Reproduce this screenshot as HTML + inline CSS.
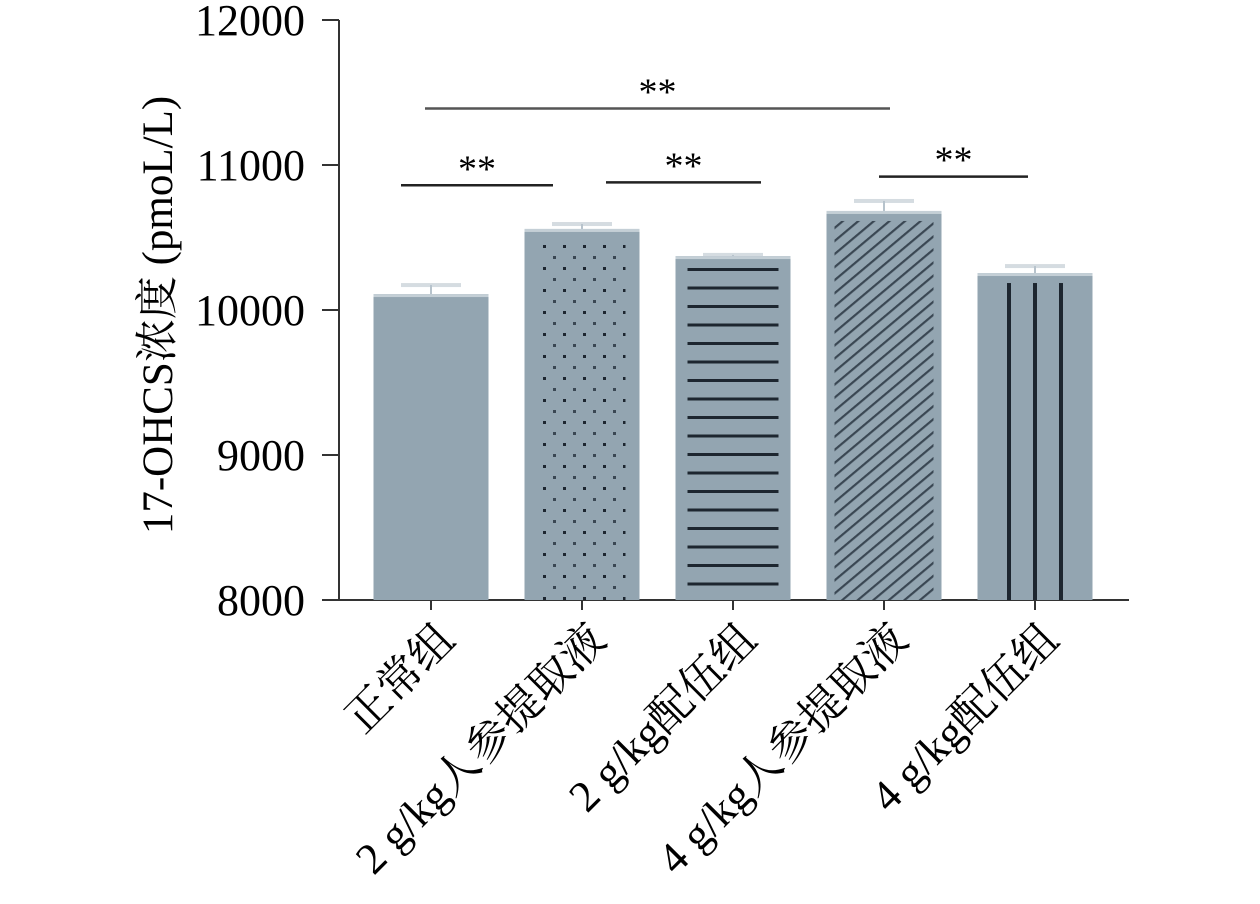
<!DOCTYPE html>
<html><head><meta charset="utf-8"><style>
body{margin:0;background:#fff}
svg text{font-family:"Liberation Serif","Noto Serif CJK SC",serif;fill:#000}
</style></head><body>
<svg id="c" width="1260" height="899">
<defs>
<pattern id="pDots" width="20" height="22" patternUnits="userSpaceOnUse"><rect x="3" y="3" width="3" height="3" fill="#1d2630"/><rect x="13" y="14" width="3" height="3" fill="#3a4753"/></pattern>
<pattern id="pH" width="20" height="18.5" patternUnits="userSpaceOnUse"><rect x="0" y="9" width="20" height="3" fill="#1d2630"/></pattern>
<pattern id="pD" width="10" height="10" patternUnits="userSpaceOnUse" patternTransform="rotate(-40)"><rect x="0" y="0" width="10" height="2.2" fill="#3a4753"/></pattern>
</defs>
<g id="plot"></g>
</svg>
<script>
const categories=["正常组","2 g/kg人参提取液","2 g/kg配伍组","4 g/kg人参提取液","4 g/kg配伍组"];
const values=[10110,10559,10372,10683,10255];
const errors=[62,34,8,69,48];
const yTicks=[8000,9000,10000,11000,12000];
const sigPairs=[[0,1],[1,2],[0,3],[3,4]];
const sigY=[10860,10880,11390,10920];
const patterns=["none","url(#pDots)","url(#pH)","url(#pD)","vlines"];
const NS="http://www.w3.org/2000/svg";
const g=document.getElementById('plot');
const y=v=>600-(v-8000)*0.145;
const x=i=>431+i*151;
const bw=115;
const bracketL=[-30,24,-6,-5], bracketR=[-29,28,6,-7];
function mk(t,a,p){const e=document.createElementNS(NS,t);for(const k in a)e.setAttribute(k,a[k]);(p||g).appendChild(e);return e;}
let ax=mk('line',{x1:339,y1:20,x2:339,y2:601,stroke:'#333','stroke-width':2});


let xa=mk('line',{x1:338,y1:600,x2:1129,y2:600,stroke:'#333','stroke-width':2});


yTicks.forEach(v=>{
 mk('line',{x1:322,y1:y(v),x2:339,y2:y(v),stroke:'#333','stroke-width':2});
 const t=mk('text',{x:305,y:y(v)+15,'text-anchor':'end','font-size':44});
 t.textContent=v;
 
 
});
const yt=mk('text',{transform:'translate(172,315) rotate(-90)','text-anchor':'middle','font-size':43});
yt.textContent='17-OHCS浓度 (pmoL/L)';


categories.forEach((c,i)=>{
 const cx=x(i),top=y(values[i]),x0=cx-bw/2;
 mk('rect',{x:cx-30,y:y(values[i]+errors[i])-2,width:60,height:4,fill:'#d5dce1'});
 mk('line',{x1:cx,y1:y(values[i]+errors[i]),x2:cx,y2:top,stroke:'#b7c3cc','stroke-width':2});
 const b=mk('rect',{x:x0,y:top,width:bw,height:600-top,fill:'#93a5b1'});
 
 
 mk('rect',{x:x0,y:top,width:bw,height:3,fill:'#c4cfd6'});
 if(patterns[i]==="vlines"){
  [-28,-2,24].forEach(d=>mk('rect',{x:cx+d,y:top+10,width:4,height:600-top-10,fill:'#1d2630'}));
 } else if(patterns[i]!=="none"){
  const inset=i===2?12:(i===1?14:8);
  mk('rect',{x:x0+inset,y:top+10,width:bw-2*inset,height:600-top-10,fill:patterns[i]});
 }
 mk('line',{x1:cx,y1:600,x2:cx,y2:610,stroke:'#333','stroke-width':2});
 const t=mk('text',{transform:`translate(${cx+26},642) rotate(-45)`,'text-anchor':'end','font-size':44});
 t.textContent=c;
 
 
});
sigPairs.forEach((p,k)=>{
 const x1=x(p[0])+bracketL[k];
 const x2=x(p[1])+bracketR[k];
 const yy=y(sigY[k]);
 const l=mk('line',{x1:x1,y1:yy,x2:x2,y2:yy,stroke:k==2?'#555':'#222','stroke-width':2.5});
 
 
 const s=mk('text',{x:(x1+x2)/2,y:yy-4,'text-anchor':'middle','font-size':38});
 s.textContent='**';
 
 
});
</script>
</body></html>
